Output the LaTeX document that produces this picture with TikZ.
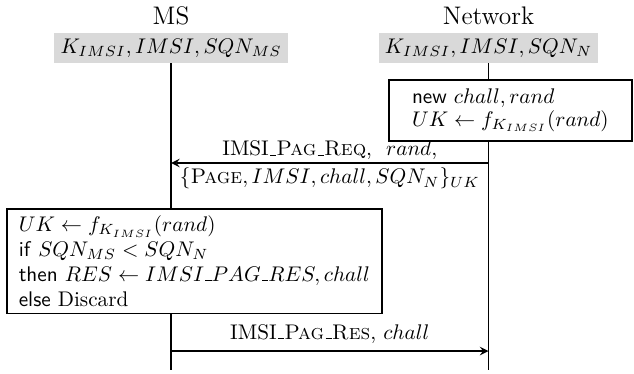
\documentclass[tikz,border=0pt]{standalone}
\usepackage{xcolor}
\usepackage{tikz}
\usetikzlibrary{positioning}
\usepackage{amsmath,amssymb}

% short underscore as in the old text fonts
\newcommand{\us}{\mbox{\kern.06em\vbox{\hrule width.3em}}}

\begin{document}
\begin{tikzpicture}
        % Define the styles for the parties, the boxes and the messages
        \tikzstyle{party}=[fill=gray!30, inner xsep=3pt, inner ysep=2.5pt];
        \tikzstyle{calcbox}=[draw, thick, fill=white, align=left, anchor=north west, inner xsep=5pt];
        \tikzstyle{msg}=[thick, -stealth];

        % Fix the size of the picture
        \useasboundingbox (0,0) rectangle (10.524,-6.208);

        % Names of the parties and what each of them knows
        \node (msname) at (2.839,-0.266) {\large MS};
        \node (netname) at (8.109,-0.266) {\large Network};
        \node[party] (mskeys) at (2.839,-0.797) {$K_{IMSI}, IMSI, SQN_{MS}$};
        \node[party] (netkeys) at (8.109,-0.797) {$K_{IMSI}, IMSI, SQN_N$};

        % Lifelines
        \coordinate (msend) at (2.839,-6.142);
        \coordinate (netend) at (8.109,-6.142);
        \draw[thick] (mskeys) -- (msend);
        \draw[thick] (netkeys) -- (netend);

        % Computation on the network side
        \node[calcbox, minimum width=4.034cm, minimum height=1.013cm] (netcalc) at (6.441,-1.311)
            {\textsf{new} $chall, rand$\\[-1pt] $UK \leftarrow f_{K_{IMSI}}(rand)$};

        % Paging request
        \coordinate (reqfrom) at (8.109,-2.706);
        \coordinate (reqto) at (2.839,-2.706);
        \draw[msg] (reqfrom) -- (reqto)
            node[midway, above, inner sep=1pt] (reqtop) {IMSI\us\textsc{Pag\us{}Req}, \ $rand$,}
            node[midway, below, inner sep=2pt] (reqbot) {$\{$\textsc{Page}$, IMSI, chall, SQN_N\}_{UK}$};

        % Computation on the MS side
        \node[calcbox, minimum width=6.225cm, minimum height=1.726cm] (mscalc) at (0.1,-3.453)
            {$UK \leftarrow f_{K_{IMSI}}(rand)$\\[-0.3pt]
             \textsf{if} $SQN_{MS} < SQN_N$\\[-0.3pt]
             \textsf{then} $RES \leftarrow IMSI\us PAG\us RES, chall$\\[-0.3pt]
             \textsf{else} Discard};

        % Paging response
        \coordinate (resfrom) at (2.839,-5.827);
        \coordinate (resto) at (8.109,-5.827);
        \draw[msg] (resfrom) -- (resto)
            node[midway, above] (restop) {IMSI\us\textsc{Pag\us{}Res}, $chall$};
    \end{tikzpicture}
\end{document}
